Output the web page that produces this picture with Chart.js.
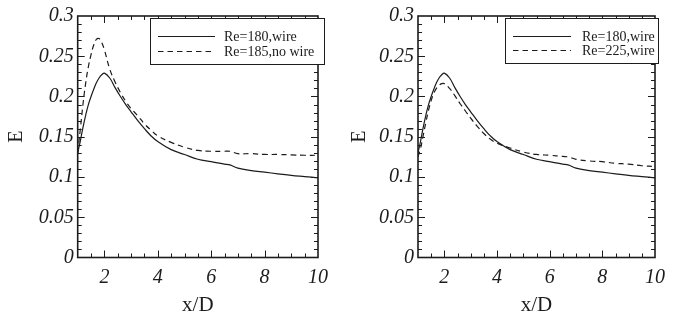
<!DOCTYPE html>
<html>
<head>
<meta charset="utf-8">
<script src="https://cdn.jsdelivr.net/npm/chart.js@4/dist/chart.umd.min.js"></script>
<style>
  html, body { margin: 0; padding: 0; background: #fff; overflow: hidden; }
  #wrap { position: relative; width: 673px; height: 320px; }
  canvas { position: absolute; top: 0; }
  #c1 { left: 0; }
  #c2 { left: 336px; }
</style>
</head>
<body>
<div id="wrap">
  <canvas id="c1" width="336" height="320"></canvas>
  <canvas id="c2" width="337" height="320"></canvas>
</div>
<script>
// Streamwise positions x/D
const xD = [1.0, 1.1, 1.2, 1.3, 1.4, 1.5, 1.6, 1.7, 1.8, 1.9, 2.0, 2.2, 2.4, 2.6, 2.8,
            3.0, 3.25, 3.5, 3.75, 4.0, 4.5, 5.0, 5.5, 6.0, 6.5, 6.7, 7.0, 7.5, 8.0,
            8.5, 9.0, 9.5, 10.0];

// E along the wake
const eRe180Wire = [0.130, 0.145, 0.162, 0.177, 0.190, 0.200, 0.209, 0.217, 0.223, 0.227, 0.229,
                    0.223, 0.211, 0.200, 0.190, 0.181, 0.170, 0.160, 0.151, 0.144, 0.134,
                    0.128, 0.122, 0.119, 0.116, 0.115, 0.111, 0.108, 0.106, 0.104, 0.102,
                    0.1005, 0.099];
const eRe185NoWire = [0.130, 0.160, 0.191, 0.217, 0.237, 0.252, 0.264, 0.271, 0.272, 0.267, 0.258,
                      0.234, 0.218, 0.205, 0.194, 0.185, 0.176, 0.166, 0.158, 0.151, 0.143,
                      0.137, 0.133, 0.132, 0.132, 0.132, 0.129, 0.129, 0.128, 0.128, 0.1275,
                      0.127, 0.127];
const eRe225Wire = [0.125, 0.136, 0.152, 0.168, 0.183, 0.195, 0.204, 0.210, 0.214, 0.216, 0.216,
                    0.210, 0.201, 0.191, 0.182, 0.173, 0.163, 0.154, 0.147, 0.142, 0.136,
                    0.131, 0.128, 0.127, 0.1255, 0.125, 0.122, 0.120, 0.119, 0.117, 0.116,
                    0.114, 0.113];

const xTickValues = [2, 4, 6, 8, 10];
const yTickValues = [0, 0.05, 0.1, 0.15, 0.2, 0.25, 0.3];
const yTickLabels = ['0', '0.05', '0.1', '0.15', '0.2', '0.25', '0.3'];

const INK = '#1c1c1c';
const SERIF = "'Liberation Serif', 'Times New Roman', serif";

const toPoints = (xs, ys) => xs.map((x, i) => ({ x, y: ys[i] }));

function series(label, values, dashed) {
  return {
    label,
    data: toPoints(xD, values),
    borderColor: INK,
    borderWidth: 1.2,
    borderDash: dashed ? [5.5, 4] : [],
    pointRadius: 0,
    fill: false,
    tension: 0.4
  };
}

// Closed frame with inward ticks on all four sides
const frameTicks = {
  id: 'frameTicks',
  afterDatasetsDraw(chart) {
    const { ctx, chartArea: a, scales: { x, y } } = chart;
    ctx.save();
    ctx.strokeStyle = INK;
    ctx.lineWidth = 1;
    ctx.beginPath();
    for (let v = 1.5; v < 10; v += 0.5) {
      const px = Math.round(x.getPixelForValue(v)) + 0.5;
      const len = (Math.abs(v % 2) < 1e-6) ? 7 : 4;
      ctx.moveTo(px, a.bottom); ctx.lineTo(px, a.bottom - len);
      ctx.moveTo(px, a.top); ctx.lineTo(px, a.top + len);
    }
    for (let k = 1; k < 30; k++) {
      const py = Math.round(y.getPixelForValue(k / 100)) + 0.5;
      const len = (k % 5 === 0) ? 7 : 4;
      ctx.moveTo(a.left, py); ctx.lineTo(a.left + len, py);
      ctx.moveTo(a.right, py); ctx.lineTo(a.right - len, py);
    }
    ctx.stroke();
    ctx.lineWidth = 1.6;
    ctx.strokeRect(a.left, a.top, a.right - a.left, a.bottom - a.top);
    ctx.restore();
  }
};

// Boxed legend inside the plot
const boxLegend = {
  id: 'boxLegend',
  afterDraw(chart, args, o) {
    const { ctx } = chart;
    ctx.save();
    ctx.fillStyle = '#fff';
    ctx.fillRect(o.x0, o.y0, o.x1 - o.x0, o.y1 - o.y0);
    ctx.strokeStyle = INK;
    ctx.lineWidth = 1;
    ctx.strokeRect(o.x0 + 0.5, o.y0 + 0.5, o.x1 - o.x0, o.y1 - o.y0);
    chart.data.datasets.forEach((ds, i) => {
      const yy = o.rows[i];
      ctx.beginPath();
      ctx.setLineDash(ds.borderDash || []);
      ctx.lineWidth = 1.2;
      ctx.moveTo(o.lineX0, yy + 0.5);
      ctx.lineTo(o.lineX1, yy + 0.5);
      ctx.stroke();
      ctx.setLineDash([]);
      ctx.fillStyle = INK;
      ctx.font = '14px ' + SERIF;
      ctx.textBaseline = 'middle';
      ctx.textAlign = 'left';
      ctx.fillText(ds.label, o.textX, yy + 1);
    });
    ctx.restore();
  }
};

function makePanel(canvasId, datasets, axisWidth, titlePad, padRight, legendBox) {
  return new Chart(document.getElementById(canvasId), {
    type: 'line',
    data: { datasets },
    plugins: [frameTicks, boxLegend],
    options: {
      responsive: false,
      animation: false,
      devicePixelRatio: 1,
      layout: { autoPadding: false, padding: { top: 10, right: padRight, left: 0, bottom: 0 } },
      plugins: { legend: { display: false }, tooltip: { enabled: false }, boxLegend: legendBox },
      scales: {
        x: {
          type: 'linear', min: 1, max: 10,
          afterBuildTicks: s => { s.ticks = xTickValues.map(v => ({ value: v })); },
          afterFit: s => { s.height = 62.5; },
          grid: { display: false, drawTicks: false },
          border: { display: false },
          ticks: {
            autoSkip: false, maxRotation: 0, padding: 8, color: INK,
            font: { family: SERIF, style: 'italic', size: 20 }
          },
          title: {
            display: true, text: 'x/D', color: INK,
            font: { family: SERIF, size: 21 },
            padding: { top: 0, bottom: 2 }
          }
        },
        y: {
          type: 'linear', min: 0, max: 0.3,
          afterBuildTicks: s => { s.ticks = yTickValues.map(v => ({ value: v })); },
          afterFit: s => { s.width = axisWidth; },
          grid: { display: false, drawTicks: false },
          border: { display: false },
          ticks: {
            padding: 4, color: INK,
            font: { family: SERIF, style: 'italic', size: 20 },
            callback: (v, i) => yTickLabels[i]
          },
          title: {
            display: true, text: 'E', color: INK,
            font: { family: SERIF, size: 20 },
            padding: { top: titlePad, bottom: 0 }
          }
        }
      }
    }
  });
}

makePanel('c1', [
  series('Re=180,wire', eRe180Wire, false),
  series('Re=185,no wire', eRe185NoWire, true)
], 77.7, 5, 10, {
  x0: 150, y0: 18, x1: 324, y1: 64,
  rows: [36, 51], lineX0: 158, lineX1: 215, textX: 224
});

makePanel('c2', [
  series('Re=180,wire', eRe180Wire, false),
  series('Re=225,wire', eRe225Wire, true)
], 82, 12, 7, {
  x0: 169, y0: 18, x1: 322, y1: 63,
  rows: [36, 50], lineX0: 177, lineX1: 235, textX: 246
});
</script>
</body>
</html>
